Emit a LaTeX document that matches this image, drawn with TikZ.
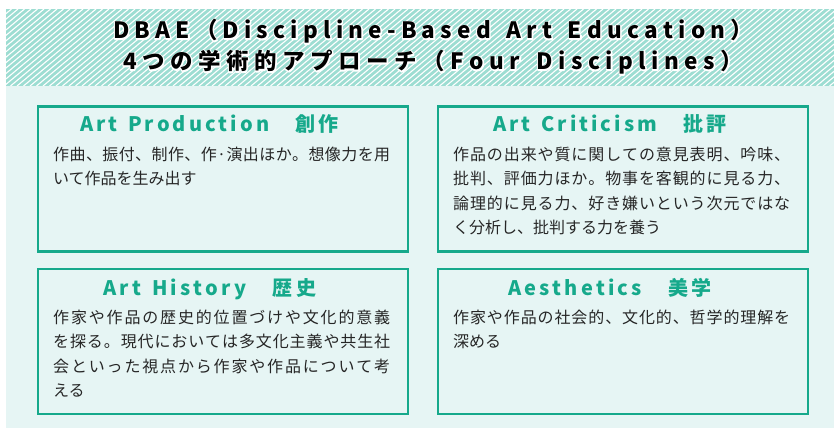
\documentclass[tikz,border=0pt]{standalone}
\usepackage{fontspec}
\setmainfont{Noto Sans CJK JP}
\definecolor{bandc}{HTML}{9DDDD2}
\definecolor{palec}{HTML}{E6F5F4}
\definecolor{tealc}{HTML}{16A98B}
\definecolor{inkc}{HTML}{262626}
\def\spreadA#1{#1\spreadB}
\def\spreadB#1{\ifx#1\relax\else\hfil#1\expandafter\spreadB\fi}
\newcommand\jline[2][337pt]{\makebox[#1][s]{\spreadA#2\relax}}
\newcommand\halotext[1]{\leavevmode\rlap{\special{pdf:literal direct 1 Tr 2.4 w 1 j 1 1 1 RG}#1\special{pdf:literal direct 0 Tr}}#1}
\tikzset{
  boxc/.style={draw=tealc, line width=2.7pt, fill=none, inner sep=0pt, minimum width=370pt, minimum height=145pt},
  titletxt/.style={anchor=base west, inner sep=0pt, text=black, font=\fontsize{22.5}{26}\selectfont\bfseries},
  headtxt/.style={anchor=base west, inner sep=0pt, text=tealc, font=\fontsize{20}{22}\selectfont\bfseries},
  bodytxt/.style={anchor=base west, inner sep=0pt, text=inkc, font=\fontsize{16}{18}\selectfont}
}
\begin{document}
\begin{tikzpicture}[x=1pt,y=-1pt]
\useasboundingbox (0,0) rectangle (834,428);
\fill[white] (0,0) rectangle (834,428);
% header band
\fill[bandc] (6,9) rectangle (834,86);
\begin{scope}
\clip (6,9) rectangle (834,86);
\foreach \i in {0,...,145} \draw[white, line width=1.1pt] ({\i*6.5-100},86) -- ++(92,-77);
\end{scope}
% pale background
\fill[palec] (6,86) rectangle (834,428);
% boxes
\node[boxc] (b1) at (223,179) {};
\node[boxc] (b2) at (623,179) {};
\node[boxc] (b3) at (223,341.5) {};
\node[boxc] (b4) at (623,341.5) {};
% headings
\node[headtxt] (h1) at (80,131.5) {\jline[258pt]{Art~Production　創作}};
\node[headtxt] (h2) at (493,131.5) {\jline[233pt]{Art~Criticism　批評}};
\node[headtxt] (h3) at (103,295) {\jline[213pt]{Art~History　歴史}};
\node[headtxt] (h4) at (508,295) {\jline[203pt]{Aesthetics　美学}};
% body texts
\node[bodytxt] (p1a) at (53,160) {\jline{作曲、振付、制作、作·演出ほか。想像力を用}};
\node[bodytxt] (p1b) at (53,184.5) {いて作品を生み出す};
\node[bodytxt] (p2a) at (453,160) {\jline{作品の出来や質に関しての意見表明、吟味、}};
\node[bodytxt] (p2b) at (453,184.5) {\jline{批判、評価力ほか。物事を客観的に見る力、}};
\node[bodytxt] (p2c) at (453,209) {\jline{論理的に見る力、好き嫌いという次元ではな}};
\node[bodytxt] (p2d) at (453,233.5) {く分析し、批判する力を養う};
\node[bodytxt] (p3a) at (53,323) {\jline{作家や作品の歴史的位置づけや文化的意義}};
\node[bodytxt] (p3b) at (53,347.5) {\jline{を探る。現代においては多文化主義や共生社}};
\node[bodytxt] (p3c) at (53,372) {\jline{会といった視点から作家や作品について考}};
\node[bodytxt] (p3d) at (53,396.5) {える};
\node[bodytxt] (p4a) at (453,323) {\jline{作家や作品の社会的、文化的、哲学的理解を}};
\node[bodytxt] (p4b) at (453,347.5) {深める};
% title
\node[titletxt] (t1) at (113,39) {\halotext{\jline[640pt]{DBAE（Discipline-Based~Art~Education）}}};
\node[titletxt] (t2) at (123,70) {\halotext{\jline[620pt]{4つの学術的アプローチ（Four~Disciplines）}}};
\end{tikzpicture}
\end{document}
